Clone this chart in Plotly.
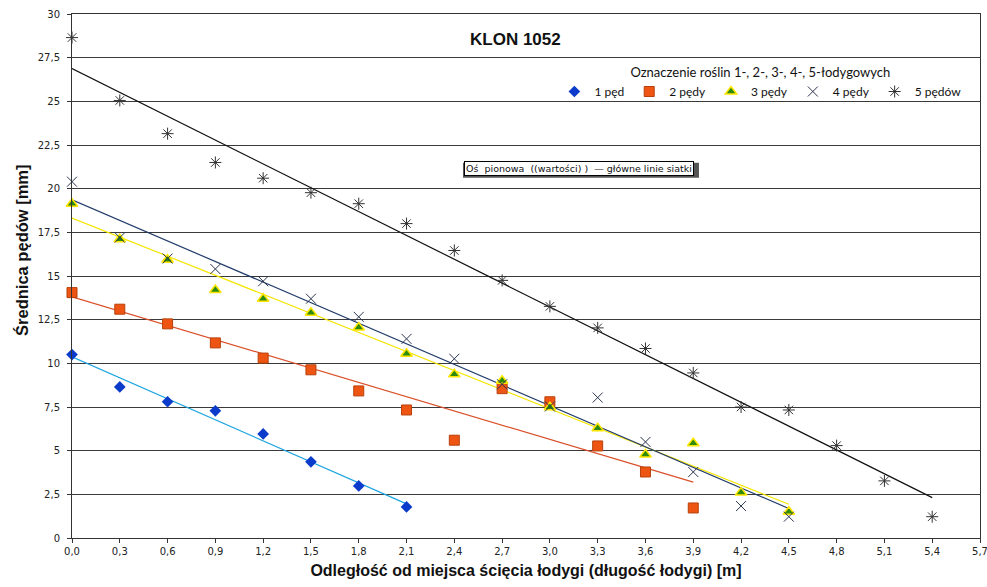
import numpy as np
import plotly.graph_objects as go

# ---- data ----
x_all = [0.0, 0.3, 0.6, 0.9, 1.2, 1.5, 1.8, 2.1, 2.4, 2.7, 3.0, 3.3, 3.6, 3.9, 4.2, 4.5, 4.8, 5.1, 5.4]

pedy1 = [10.5, 8.65, 7.8, 7.28, 5.96, 4.36, 2.98, 1.78]
pedy2 = [14.05, 13.1, 12.26, 11.17, 10.3, 9.63, 8.42, 7.33, 5.6, 8.55, 7.8, 5.27, 3.78, 1.72]
pedy3 = [19.14, 17.1, 15.93, 14.2, 13.7, 12.9, 12.05, 10.55, 9.37, 9.0, 7.48, 6.28, 4.78, 5.42, 2.6, 1.5]
pedy4 = [20.4, 17.2, 16.0, 15.4, 14.7, 13.7, 12.66, 11.4, 10.26, 8.8, 7.53, 8.04, 5.5, 3.78, 1.83, 1.22]
pedy5 = [28.65, 25.05, 23.15, 21.5, 20.6, 19.77, 19.14, 18.0, 16.46, 14.75, 13.26, 12.03, 10.85, 9.45, 7.5, 7.33, 5.29, 3.27, 1.22]

names = ["1 pęd", "2 pędy", "3 pędy", "4 pędy", "5 pędów"]

x_ticks = [0.0, 0.3, 0.6, 0.9, 1.2, 1.5, 1.8, 2.1, 2.4, 2.7, 3.0, 3.3, 3.6, 3.9, 4.2, 4.5, 4.8, 5.1, 5.4, 5.7]
x_ticktext = ["0,0", "0,3", "0,6", "0,9", "1,2", "1,5", "1,8", "2,1", "2,4", "2,7", "3,0",
              "3,3", "3,6", "3,9", "4,2", "4,5", "4,8", "5,1", "5,4", "5,7"]
y_ticks = [0, 2.5, 5, 7.5, 10, 12.5, 15, 17.5, 20, 22.5, 25, 27.5, 30]
y_ticktext = ["0", "2,5", "5", "7,5", "10", "12,5", "15", "17,5", "20", "22,5", "25", "27,5", "30"]

# ---- styles ----
series = [
    (pedy1, dict(symbol="diamond", size=9, color="#0B3BCB", line=dict(width=0)), "#1EA5E0"),
    (pedy2, dict(symbol="square", size=10, color="#EE5512", line=dict(width=1, color="#B8400C")), "#D9502A"),
    (pedy3, dict(symbol="triangle-up", size=10, color="#2E8B0E", line=dict(width=1.5, color="#FFE600")), "#F5E600"),
    (pedy4, dict(symbol="x-thin", size=10, color="#2A3550", line=dict(width=1, color="#2A3550")), "#1F3A6A"),
    (pedy5, dict(symbol="asterisk", size=10, color="#333333", line=dict(width=1, color="#333333")), "#111111"),
]

fig = go.Figure()

# trendlines (least squares fit of each series)
for vals, mk, lc in series:
    xs = np.array(x_all[:len(vals)])
    a, b = np.polyfit(xs, np.array(vals), 1)
    xl = [xs[0], xs[-1]]
    fig.add_trace(go.Scatter(x=xl, y=[a * v + b for v in xl], mode="lines",
                             line=dict(color=lc, width=1.2), showlegend=False, hoverinfo="skip"))

for (vals, mk, lc), nm in zip(series, names):
    fig.add_trace(go.Scatter(x=x_all[:len(vals)], y=vals, mode="markers", name=nm, marker=mk,
                             cliponaxis=False))

axis_font = dict(family="DejaVu Sans", size=10, color="#222222")
box_text = "Oś  pionowa  ((wartości) )  — główne linie siatki"

fig.update_layout(
    width=987, height=587,
    margin=dict(l=72, r=7, t=14, b=49),
    paper_bgcolor="white", plot_bgcolor="white",
    showlegend=True,
    legend=dict(
        orientation="h", x=0.985, xanchor="right", y=0.912, yanchor="top",
        bgcolor="rgba(0,0,0,0)",
        font=dict(family="Lato", size=12, color="#111111"),
        title=dict(text="Oznaczenie roślin 1-, 2-, 3-, 4-, 5-łodygowych", side="top center",
                   font=dict(family="Lato", size=13, color="#111111")),
        itemwidth=30, tracegroupgap=0,
    ),
    xaxis=dict(range=[0, 5.7], tickvals=x_ticks, ticktext=x_ticktext, tickfont=axis_font,
               showgrid=False, zeroline=False, showline=True, linecolor="#333333", linewidth=1,
               mirror=True, ticks="outside", ticklen=4, tickcolor="#333333", automargin=False,
               ticklabeloverflow="allow",
               title=dict(text="<b>Odległość od miejsca ścięcia łodygi (długość łodygi) [m]</b>",
                          font=dict(family="Liberation Sans", size=16, color="#111111"), standoff=8)),
    yaxis=dict(range=[0, 30], tickvals=y_ticks, ticktext=y_ticktext, tickfont=axis_font,
               showgrid=True, gridcolor="#3A3A3A", gridwidth=1, zeroline=False,
               showline=True, linecolor="#333333", linewidth=1, mirror=True,
               ticks="outside", ticklen=4, tickcolor="#333333", automargin=False,
               ticklabelstandoff=5, ticklabeloverflow="allow"),
    shapes=[
        dict(type="rect", xref="paper", yref="paper", x0=0.4306, x1=0.6905, y0=0.6877, y1=0.7163,
             fillcolor="#555555", line=dict(width=0), layer="above"),
    ],
    annotations=[
        dict(text="<b>Średnica pędów [mm]</b>", xref="paper", yref="paper", x=-0.055, y=0.548,
             textangle=-90, showarrow=False, xanchor="center", yanchor="middle",
             font=dict(family="Liberation Sans", size=16.5, color="#111111")),
        dict(text="<b>KLON 1052</b>", xref="paper", yref="paper", x=0.488, y=0.951,
             showarrow=False, xanchor="center", yanchor="middle",
             font=dict(family="Liberation Sans", size=17, color="#111111")),
        dict(text=box_text, xref="paper", yref="paper", x=0.558, y=0.705,
             showarrow=False, xanchor="center", yanchor="middle", bgcolor="white",
             bordercolor="#000000", borderwidth=1, borderpad=1,
             font=dict(family="DejaVu Sans", size=9.5, color="#111111")),
    ],
)

# remove the browser's default 8px page margin so the figure fills the window exactly
fig.write_html("out.html", config={"displayModeBar": False},
               post_script="document.body.style.margin='0';"
                           "document.documentElement.style.overflow='hidden';")
